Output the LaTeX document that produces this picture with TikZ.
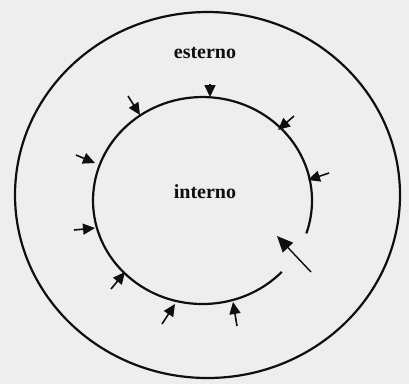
\documentclass[tikz,border=0pt]{standalone}
\usepackage{fontspec}
\setmainfont{Liberation Serif}
\usetikzlibrary{arrows.meta}
\definecolor{paper}{RGB}{238,238,238}
\definecolor{ink}{RGB}{15,15,15}
\begin{document}
\begin{tikzpicture}[x=1pt,y=-1pt,
  ring/.style={line width=2.2pt, draw=ink},
  push/.style={line width=1.6pt, draw=ink, -{Triangle[length=12pt,width=11pt]}},
  bigpush/.style={line width=1.4pt, draw=ink, -{Triangle[length=16pt,width=14pt]}},
  lab/.style={font=\fontsize{20}{22}\selectfont\bfseries, text=ink, inner sep=0pt}]
\fill[paper] (0,0) rectangle (409,384);
\useasboundingbox (0,0) rectangle (409,384);
% outer ring
\draw[ring] (207.5,195) ellipse [x radius=192.5, y radius=183];
% inner ring with a gap at lower right
\draw[ring] (281.8,271.9) arc [start angle=43.6, end angle=378.5, x radius=109.5, y radius=103.5];
% labels
\node[lab] (ext) at (205,53) {esterno};
\node[lab] (int) at (205,192) {interno};
% arrow tails and tips
\coordinate (a1) at (210,84);   \coordinate (b1) at (210,97);
\coordinate (a2) at (128,96);   \coordinate (b2) at (140,115);
\coordinate (a3) at (294,116);  \coordinate (b3) at (278,130);
\coordinate (a4) at (329,173);  \coordinate (b4) at (308,180);
\coordinate (a5) at (76,155);   \coordinate (b5) at (95,163);
\coordinate (a6) at (74,230);   \coordinate (b6) at (95,228);
\coordinate (a7) at (111,289);  \coordinate (b7) at (125,272);
\coordinate (a8) at (162,324);  \coordinate (b8) at (175,304);
\coordinate (a9) at (237,326);  \coordinate (b9) at (233,302);
\coordinate (a10) at (311,272); \coordinate (b10) at (277,236);
\foreach \i in {1,...,9} {\draw[push] (a\i) -- (b\i);}
\draw[bigpush] (a10) -- (b10);
\end{tikzpicture}
\end{document}
